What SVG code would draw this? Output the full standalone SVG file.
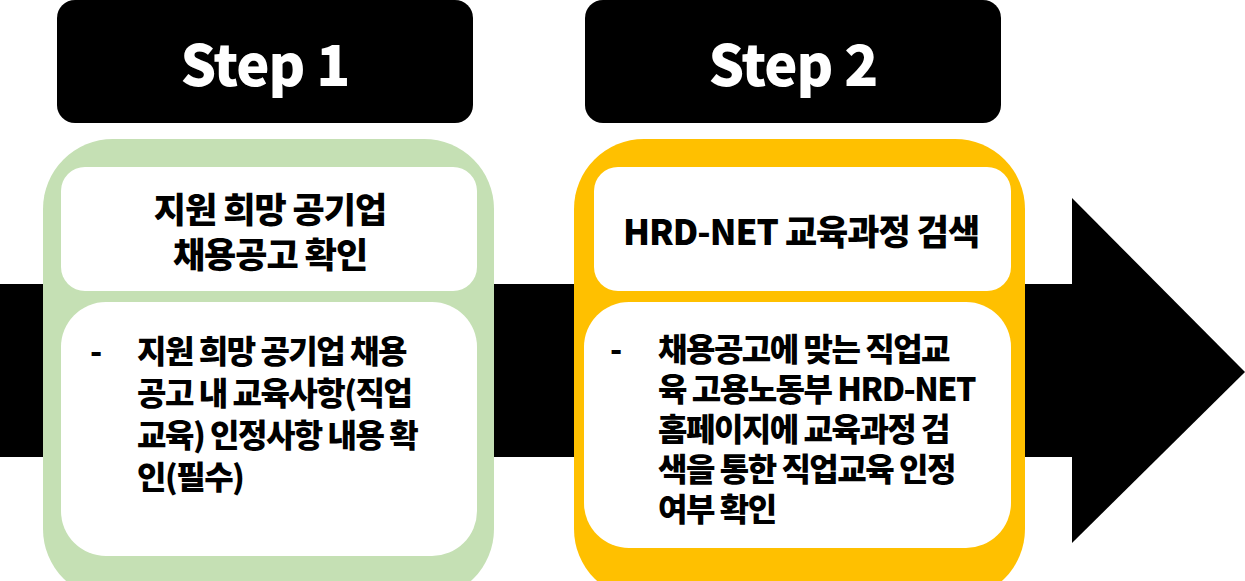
<svg xmlns="http://www.w3.org/2000/svg" width="1245" height="581" viewBox="0 0 1245 581">
<style>
text{font-family:"Noto Sans CJK KR","Noto Sans",sans-serif;font-weight:900;fill:#000}
.step{font-size:56px;fill:#fff;text-anchor:middle;letter-spacing:-1px}
.title{font-size:35px;text-anchor:middle;letter-spacing:-1px}
.body{font-size:32px;letter-spacing:-1.5px}
.box{fill:#fff}
</style>
<g id="connectors">
<rect x="0" y="284" width="1075" height="173" fill="#000"/>
<polygon points="1072,198 1245,372 1072,543" fill="#000"/>
</g>
<g id="step1-header">
<rect x="57" y="0" width="416" height="123" rx="18" fill="#000"/>
<text class="step" x="265" y="86">Step 1</text>
</g>
<g id="step2-header">
<rect x="585" y="0" width="416" height="123" rx="18" fill="#000"/>
<text class="step" x="793" y="86">Step 2</text>
</g>
<g id="step1">
<rect x="43" y="139" width="451" height="460" rx="70" fill="#c5e0b4"/>
<rect class="box" x="61" y="167" width="416" height="124" rx="24"/>
<text class="title" x="270" y="223">지원 희망 공기업</text>
<text class="title" x="270" y="268">채용공고 확인</text>
<rect class="box" x="61" y="302" width="416" height="254" rx="45"/>
<text class="body" x="90" y="363">-</text>
<text class="body" x="137" y="363">지원 희망 공기업 채용</text>
<text class="body" x="137" y="405">공고 내 교육사항(직업</text>
<text class="body" x="137" y="447">교육) 인정사항 내용 확</text>
<text class="body" x="137" y="489">인(필수)</text>
</g>
<g id="step2">
<rect x="574" y="139" width="451" height="460" rx="70" fill="#ffc000"/>
<rect class="box" x="594" y="167" width="417" height="124" rx="24"/>
<text class="title" x="801" y="245">HRD-NET 교육과정 검색</text>
<rect class="box" x="584" y="302" width="427" height="246" rx="45"/>
<text class="body" x="610" y="361">-</text>
<text class="body" x="658" y="361">채용공고에 맞는 직업교</text>
<text class="body" x="658" y="401">육 고용노동부 HRD-NET</text>
<text class="body" x="658" y="441">홈페이지에 교육과정 검</text>
<text class="body" x="658" y="481">색을 통한 직업교육 인정</text>
<text class="body" x="658" y="521">여부 확인</text>
</g>
</svg>
